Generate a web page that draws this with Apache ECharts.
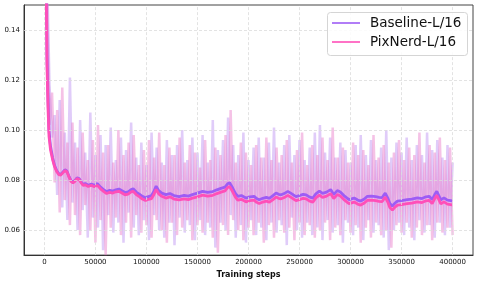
<!DOCTYPE html>
<html><head><meta charset="utf-8">
<script src="https://cdn.jsdelivr.net/npm/echarts@6/dist/echarts.min.js"></script>
<style>html,body{margin:0;padding:0;background:#fff}#c{width:478px;height:284px}</style>
</head><body><div id="c"></div>
<script>
// Raw (noisy) logs, one sample every 2500 steps starting at 2500
const rawStart = 2500, rawEvery = 2500;
const baselineRaw = [0.165,0.118,0.097,0.106,0.074,0.112,0.069,0.099,0.064,0.121,0.071,0.095,0.060,0.104,0.068,0.091,0.057,0.107,0.065,0.090,
0.061,0.098,0.052,0.094,0.066,0.101,0.059,0.088,0.063,0.097,0.055,0.092,0.067,0.103,0.061,0.089,0.058,0.095,0.064,0.086,
0.056,0.099,0.066,0.093,0.060,0.087,0.057,0.096,0.063,0.090,0.054,0.094,0.065,0.100,0.059,0.088,0.062,0.097,0.056,0.091,
0.064,0.098,0.058,0.087,0.061,0.104,0.053,0.092,0.063,0.096,0.060,0.105,0.066,0.094,0.057,0.090,0.062,0.099,0.055,0.088,
0.064,0.093,0.058,0.097,0.061,0.089,0.056,0.095,0.063,0.101,0.059,0.087,0.062,0.094,0.054,0.098,0.065,0.090,0.060,0.096,
0.057,0.088,0.063,0.093,0.058,0.099,0.061,0.102,0.056,0.091,0.064,0.097,0.059,0.089,0.062,0.095,0.055,0.092,0.063,0.087,
0.058,0.094,0.061,0.098,0.056,0.090,0.064,0.096,0.059,0.088,0.062,0.093,0.057,0.100,0.052,0.089,0.060,0.095,0.063,0.091,
0.058,0.097,0.061,0.088,0.056,0.094,0.064,0.090,0.059,0.099,0.062,0.092,0.057,0.096,0.063,0.089,0.058,0.094,0.061,0.087];
const pixnerdRaw = [0.158,0.102,0.115,0.079,0.108,0.067,0.117,0.072,0.095,0.062,0.103,0.066,0.093,0.058,0.099,0.070,0.088,0.060,0.096,0.055,
0.102,0.064,0.091,0.050,0.094,0.061,0.087,0.065,0.100,0.058,0.090,0.063,0.095,0.057,0.098,0.066,0.086,0.059,0.092,0.062,
0.096,0.057,0.089,0.064,0.099,0.060,0.086,0.055,0.093,0.063,0.090,0.058,0.097,0.061,0.087,0.064,0.094,0.056,0.091,0.062,
0.085,0.059,0.096,0.063,0.088,0.057,0.093,0.051,0.090,0.062,0.098,0.058,0.108,0.064,0.087,0.060,0.095,0.056,0.091,0.061,
0.086,0.058,0.094,0.063,0.089,0.055,0.097,0.062,0.088,0.057,0.093,0.064,0.090,0.059,0.096,0.061,0.087,0.056,0.092,0.063,
0.099,0.058,0.086,0.062,0.094,0.057,0.090,0.060,0.097,0.063,0.088,0.056,0.101,0.061,0.089,0.058,0.093,0.064,0.087,0.059,
0.095,0.062,0.090,0.055,0.092,0.061,0.086,0.057,0.098,0.063,0.089,0.058,0.094,0.060,0.087,0.053,0.091,0.062,0.096,0.059,
0.088,0.063,0.093,0.057,0.090,0.061,0.099,0.058,0.087,0.062,0.094,0.056,0.091,0.063,0.097,0.059,0.088,0.061,0.093,0.058];
// Smoothed curves
const smoothSteps = [1500,2000,2500,3500,4500,6000,8000,10000,12000,14000,16000,18000,20000,22000,24000,26000,28000,30000,32000,34000,
36000,38000,40000,43000,46000,49000,52000,55000,58000,61000,64000,67000,70000,73000,76000,79000,82000,85000,87000,90000,
93000,96000,99000,102000,105000,107000,109500,112000,115000,119000,123000,127000,132000,137000,141000,145000,150000,155000,160000,165000,
169000,173000,177000,179500,181500,184500,187000,189500,193000,197500,201500,205500,208000,210500,214000,217500,220500,224000,227000,229500,
232000,235000,238500,242500,246500,250500,253500,256500,259500,263000,266000,269500,272500,276500,280500,283500,287000,290000,293500,298500,
303500,307000,310000,313500,316500,320500,324500,328000,331000,334000,336500,338500,341000,343500,346000,350000,355500,360000,365500,370000,
374000,377000,380000,382500,384500,386500,388500,391500,395000,399500];
const baselineSmooth = [0.175,0.152,0.13,0.113,0.1,0.0935,0.089,0.0858,0.0838,0.0826,0.0823,0.0832,0.0841,0.0836,0.0816,0.0798,0.0792,0.0799,0.0809,0.0806,
0.0793,0.0783,0.0786,0.0779,0.0784,0.0779,0.0786,0.0772,0.0762,0.0754,0.0759,0.0756,0.0761,0.0764,0.0757,0.075,0.0753,0.0762,0.0765,0.0752,
0.0744,0.0735,0.0729,0.0734,0.0738,0.0752,0.0776,0.0758,0.0748,0.0742,0.0746,0.0738,0.0734,0.0739,0.0736,0.0742,0.0748,0.0755,0.0751,0.0754,
0.0761,0.0767,0.0772,0.0785,0.0789,0.0768,0.0748,0.0735,0.0738,0.0728,0.0733,0.0735,0.0726,0.0721,0.0727,0.0731,0.0727,0.0738,0.0748,0.0743,
0.0741,0.0746,0.0755,0.0745,0.0734,0.0739,0.0743,0.0741,0.0733,0.0728,0.0745,0.0756,0.0747,0.0752,0.0762,0.0742,0.0758,0.0752,0.0738,0.0722,
0.0728,0.072,0.0716,0.0724,0.0735,0.0736,0.0734,0.0731,0.073,0.0748,0.0728,0.0706,0.0696,0.0708,0.0716,0.0718,0.0722,0.0724,0.0729,0.0726,
0.0733,0.0735,0.0722,0.0742,0.0755,0.0738,0.0721,0.0729,0.072,0.0717];
const pixnerdSmooth = [0.172,0.148,0.126,0.109,0.0975,0.092,0.0882,0.0853,0.0834,0.0822,0.082,0.0829,0.0838,0.0833,0.0813,0.0795,0.0789,0.0796,0.0806,0.0802,
0.0789,0.0779,0.0781,0.0774,0.0779,0.0773,0.0779,0.0765,0.0755,0.0746,0.0751,0.0748,0.0753,0.0755,0.0748,0.0741,0.0744,0.0753,0.0755,0.0742,
0.0734,0.0724,0.0718,0.0723,0.0726,0.074,0.0763,0.0745,0.0735,0.0728,0.0733,0.0724,0.0721,0.0725,0.0722,0.0728,0.0733,0.074,0.0736,0.0739,
0.0746,0.0752,0.0757,0.077,0.0774,0.0753,0.0733,0.072,0.0723,0.0713,0.0718,0.072,0.0711,0.0706,0.0712,0.0716,0.0712,0.0722,0.0732,0.0727,
0.0725,0.073,0.0739,0.0729,0.0718,0.0723,0.0727,0.0725,0.0717,0.0712,0.0729,0.074,0.0731,0.0736,0.0746,0.0726,0.0742,0.0736,0.0722,0.0706,
0.0712,0.0704,0.07,0.0708,0.0719,0.072,0.0718,0.0715,0.0714,0.0732,0.0712,0.069,0.068,0.0692,0.07,0.0702,0.0706,0.0708,0.0713,0.071,
0.0717,0.0719,0.0706,0.0726,0.0739,0.0722,0.0705,0.0713,0.0704,0.0701];
const xTicks = [0,50000,100000,150000,200000,250000,300000,350000,400000];
const yTicks = [0.06,0.08,0.10,0.12,0.14];
const seriesNames = ['Baseline-L/16','PixNerd-L/16'];
const colors = ['#9d5cf5','#ff4fb8'];

const rawPairs = arr => arr.map((v,i)=>[rawStart + i*rawEvery, v]);
const smPairs = arr => arr.map((v,i)=>[smoothSteps[i], v]);
const font = 'DejaVu Sans';
const gridMarks = xTicks.map(x=>({xAxis:x})).concat(yTicks.map(y=>({yAxis:y})));

// legend drawn as graphic (box, line keys, real text labels)
const legendGraphic = [
  {type:'rect', left:327, top:12, shape:{width:140, height:43, r:3}, z:100,
   style:{fill:'rgba(255,255,255,0.85)', stroke:'#d5d5d5', lineWidth:1}}
];
seriesNames.forEach((n,i)=>{
  const cy = 23 + i*19;
  legendGraphic.push({type:'line', shape:{x1:332, y1:cy, x2:360, y2:cy}, z:101,
    style:{stroke:colors[i], lineWidth:1.6}});
  legendGraphic.push({type:'text', x:370, y:cy, z:101,
    style:{text:n, fill:'#111', font:'13.5px "DejaVu Sans"', textVerticalAlign:'middle', verticalAlign:'middle'}});
});

const chart = echarts.init(document.getElementById('c'), null, {renderer:'canvas'});
chart.setOption({
  animation:false,
  backgroundColor:'#fff',
  grid:{left:24, right:5, top:5, bottom:27, show:true, borderColor:'#444', borderWidth:1},
  graphic:legendGraphic,
  xAxis:{type:'value', min:-20000, max:420000,
    axisLine:{show:true, onZero:false, lineStyle:{color:'#333'}}, axisTick:{show:false}, splitLine:{show:false},
    axisLabel:{customValues:xTicks, fontFamily:font, fontSize:7, color:'#111', margin:4, formatter:v=>String(v)},
    name:'Training steps', nameLocation:'middle', nameGap:13,
    nameTextStyle:{fontFamily:font, fontSize:8, fontWeight:'bold', color:'#111'}},
  yAxis:{type:'value', min:0.05, max:0.15,
    axisLine:{show:true, onZero:false, lineStyle:{color:'#333'}}, axisTick:{show:false}, splitLine:{show:false},
    axisLabel:{customValues:yTicks, fontFamily:font, fontSize:7, color:'#111', margin:4, formatter:v=>v.toFixed(2)}},
  series:[
    {name:'Baseline raw', type:'line', data:rawPairs(baselineRaw), symbol:'none', z:1,
     lineStyle:{color:'#b585f0', width:2.5, opacity:0.42}, itemStyle:{color:'#b585f0'}, silent:true,
     markLine:{silent:true, symbol:'none', label:{show:false}, lineStyle:{type:[3,2], color:'#dcdcdc', width:0.8}, data:gridMarks}},
    {name:'PixNerd raw', type:'line', data:rawPairs(pixnerdRaw), symbol:'none', z:1,
     lineStyle:{color:'#e878c8', width:2.5, opacity:0.45}, itemStyle:{color:'#e878c8'}, silent:true},
    {name:seriesNames[0], type:'line', data:smPairs(baselineSmooth), symbol:'none', z:3,
     lineStyle:{color:colors[0], width:2.8}, itemStyle:{color:colors[0]}},
    {name:seriesNames[1], type:'line', data:smPairs(pixnerdSmooth), symbol:'none', z:4,
     lineStyle:{color:colors[1], width:2.8}, itemStyle:{color:colors[1]}}
  ]
});
</script></body></html>
